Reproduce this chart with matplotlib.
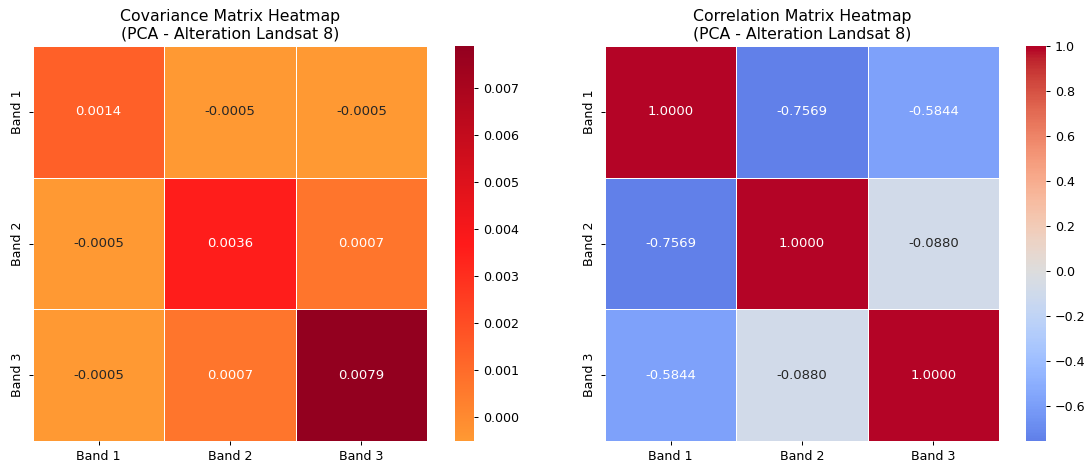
import numpy as np
import matplotlib
matplotlib.use("Agg")
import matplotlib.pyplot as plt
import seaborn as sns
from matplotlib.colors import LinearSegmentedColormap

# ─── Data ───────────────────────────────────────────────────
BANDS = ["Band 1", "Band 2", "Band 3"]

COV = np.array([
    [0.0014, -0.0005, -0.0005],
    [-0.0005, 0.0036, 0.0007],
    [-0.0005, 0.0007, 0.0079],
])

CORR = np.array([
    [1.0000, -0.7569, -0.5844],
    [-0.7569, 1.0000, -0.0880],
    [-0.5844, -0.0880, 1.0000],
])

TITLES = [
    "Covariance Matrix Heatmap\n(PCA - Alteration Landsat 8)",
    "Correlation Matrix Heatmap\n(PCA - Alteration Landsat 8)",
]

# ─── Figure ─────────────────────────────────────────────────
DPI = 90.75
fig = plt.figure(figsize=(1089 / DPI, 468 / DPI), dpi=DPI)

W, H = 1089.0, 468.0
def px_axes(x0, y_top, w, h):
    return fig.add_axes([x0 / W, 1 - (y_top + h) / H, w / W, h / H])

ax_cov  = px_axes(33, 46, 394, 395)
cb_cov  = px_axes(455, 46, 19, 395)
ax_corr = px_axes(605, 46, 394, 395)
cb_corr = px_axes(1026, 46, 20, 395)

cov_cmap = LinearSegmentedColormap.from_list(
    "cov_orange_red", ["#FF9933", "#FF1A1A", "#93001F"])

sns.heatmap(COV, ax=ax_cov, cbar_ax=cb_cov, cmap=cov_cmap,
            annot=True, fmt=".4f", linewidths=0.5, linecolor="white",
            annot_kws={"size": 10.5},
            xticklabels=BANDS, yticklabels=BANDS)

# centred at zero -> symmetric coolwarm, so the blues stay lighter
sns.heatmap(CORR, ax=ax_corr, cbar_ax=cb_corr, cmap="coolwarm", center=0,
            annot=True, fmt=".4f", linewidths=0.5, linecolor="white",
            annot_kws={"size": 10.5},
            xticklabels=BANDS, yticklabels=BANDS)

for ax, title in zip([ax_cov, ax_corr], TITLES):
    ax.set_title(title, fontsize=12.5)
    ax.tick_params(axis="y", labelrotation=90)
    for lbl in ax.get_yticklabels():
        lbl.set_va("center")

plt.savefig("out.png", dpi=DPI)
plt.close()
